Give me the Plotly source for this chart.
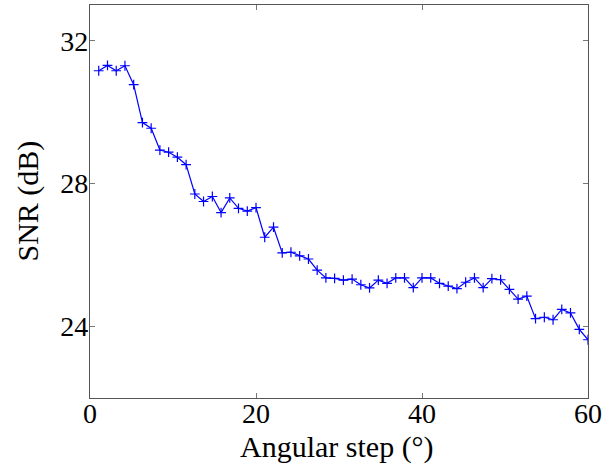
import plotly.graph_objects as go

angular_step = [1.05, 2.11, 3.16, 4.21, 5.26, 6.32, 7.37, 8.42, 9.47, 10.53,
                11.58, 12.63, 13.68, 14.74, 15.79, 16.84, 17.89, 18.95, 20.00, 21.05,
                22.11, 23.16, 24.21, 25.26, 26.32, 27.37, 28.42, 29.47, 30.53, 31.58,
                32.63, 33.68, 34.74, 35.79, 36.84, 37.89, 38.95, 40.00, 41.05, 42.11,
                43.16, 44.21, 45.26, 46.32, 47.37, 48.42, 49.47, 50.53, 51.58, 52.63,
                53.68, 54.74, 55.79, 56.84, 57.89, 58.95, 60.00]

snr_db = [31.16, 31.31, 31.16, 31.30, 30.77, 29.71, 29.55, 28.94, 28.88, 28.74,
          28.53, 27.71, 27.50, 27.64, 27.19, 27.60, 27.31, 27.23, 27.33, 26.50,
          26.78, 26.06, 26.08, 25.98, 25.89, 25.58, 25.36, 25.35, 25.30, 25.33,
          25.17, 25.08, 25.30, 25.21, 25.36, 25.36, 25.09, 25.36, 25.36, 25.21,
          25.13, 25.06, 25.24, 25.36, 25.09, 25.34, 25.31, 25.04, 24.77, 24.85,
          24.22, 24.26, 24.19, 24.48, 24.38, 23.92, 23.63]

x_ticks = [0, 20, 40, 60]
y_ticks = [24, 28, 32]
x_title = "Angular step (°)"
y_title = "SNR (dB)"

FONT = "Liberation Serif"

fig = go.Figure()
fig.add_trace(go.Scatter(
    x=angular_step, y=snr_db, mode="lines+markers",
    line=dict(color="#0000ff", width=1.2),
    marker=dict(symbol="cross-thin", size=7, line=dict(color="#0000ff", width=1.2)),
    showlegend=False,
))

axis_common = dict(
    showline=True, linecolor="#555555", linewidth=1.3, mirror="ticks",
    ticks="inside", ticklen=5, tickcolor="#777777", tickwidth=1,
    showgrid=False, zeroline=False,
    tickfont=dict(family=FONT, size=28, color="black"),
)

fig.update_xaxes(range=[0, 60], tickvals=x_ticks, ticklabelstandoff=-10, **axis_common)
fig.update_yaxes(range=[22, 33], tickvals=y_ticks, ticklabelstandoff=-5, **axis_common)

fig.add_annotation(text=x_title, xref="paper", yref="paper", x=0.5, y=0,
                   xanchor="center", yanchor="middle", yshift=-49, xshift=-2,
                   showarrow=False, font=dict(family=FONT, size=30, color="black"))
fig.add_annotation(text=y_title, xref="paper", yref="paper", x=0, y=0.5,
                   xanchor="center", yanchor="middle", xshift=-63, textangle=-90,
                   showarrow=False, font=dict(family=FONT, size=30, color="black"))

fig.update_layout(
    width=605, height=473,
    margin=dict(l=90, r=17, t=5, b=75, autoexpand=False),
    plot_bgcolor="white", paper_bgcolor="white",
    font=dict(family=FONT, color="black"),
)

fig.write_html("out.html", config={"displayModeBar": False},
               post_script="document.body.style.margin='0';document.body.style.overflow='hidden';")
